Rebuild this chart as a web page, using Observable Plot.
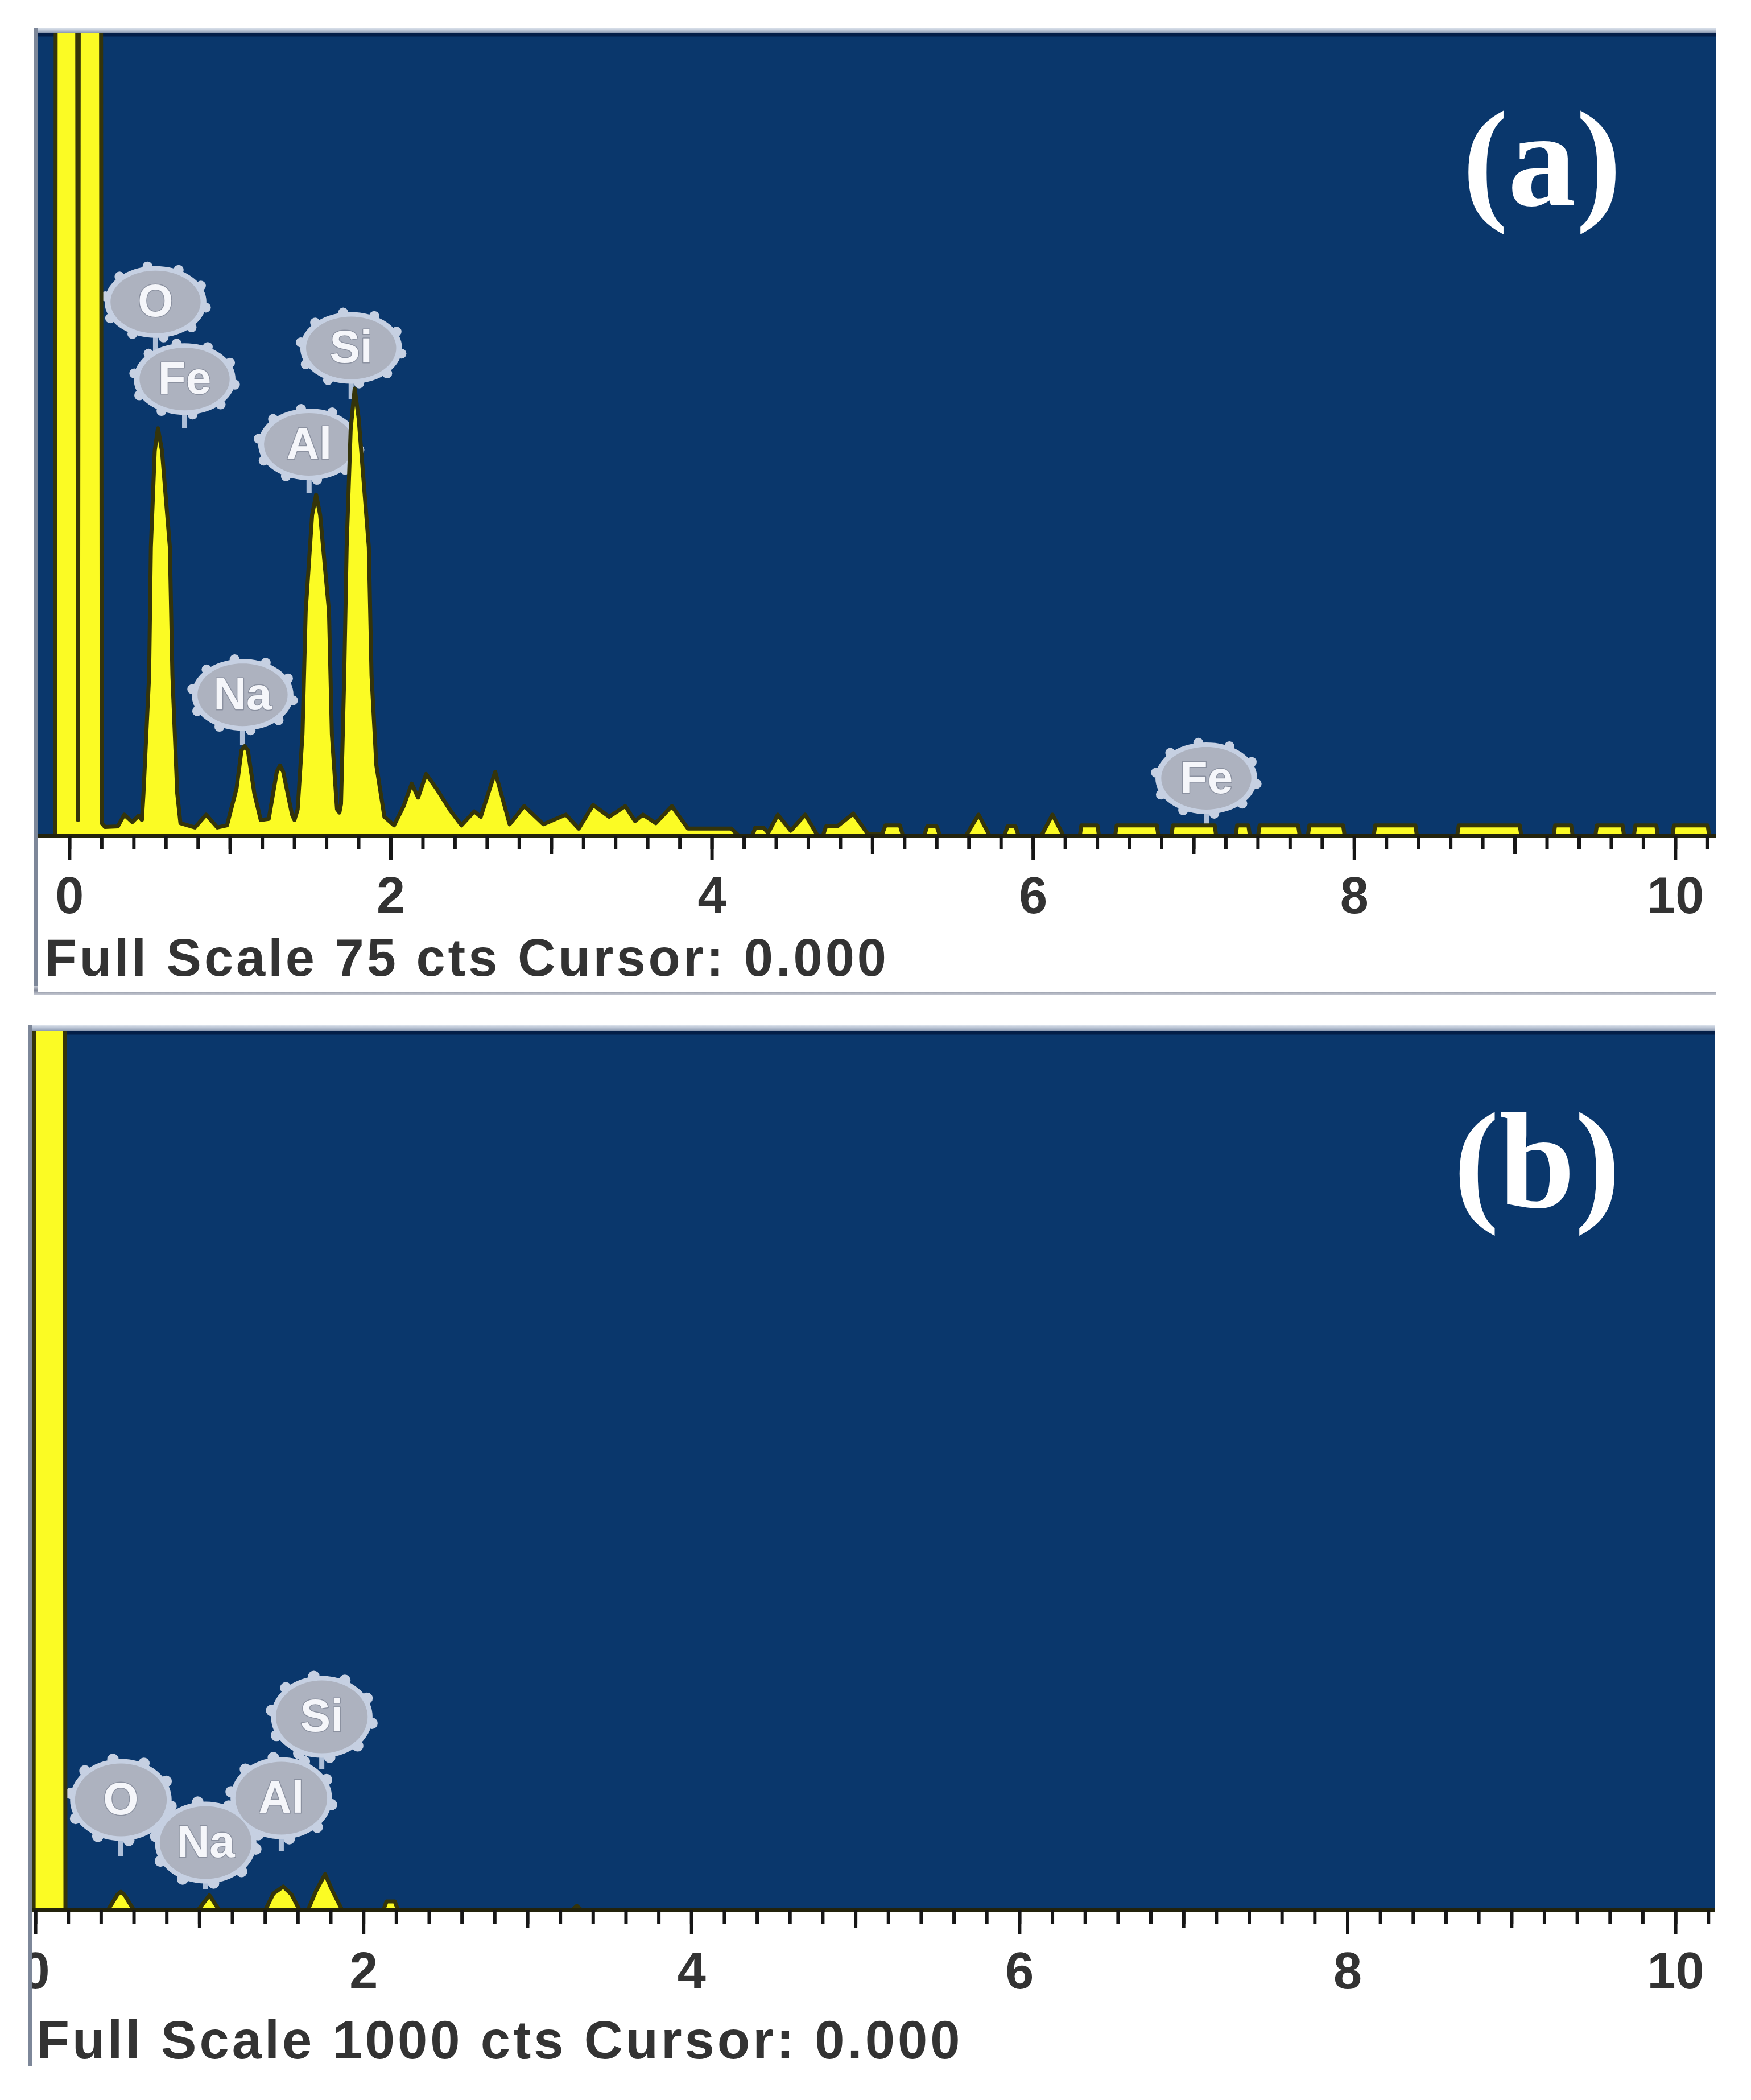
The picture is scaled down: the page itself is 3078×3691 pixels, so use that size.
<!DOCTYPE html>
<html><head><meta charset="utf-8">
<script src="https://cdn.jsdelivr.net/npm/d3@7"></script>
<script src="https://cdn.jsdelivr.net/npm/@observablehq/plot@0.6"></script>
<style>
html,body{margin:0;padding:0;background:#fff;}
#page{position:relative;width:3078px;height:3691px;overflow:hidden;background:#fff;}
.abs{position:absolute;}
</style></head>
<body><div id="page">
  <div class="abs" style="left:60px;top:49px;width:2956px;height:9px;background:linear-gradient(#e3e9f1,#8d9bb3);"></div>
  <div class="abs" style="left:60px;top:49px;width:6px;height:1699px;background:#7d8799;"></div>
  <div class="abs" style="left:60px;top:1733px;width:2956px;height:15px;background:linear-gradient(#c4c8d2,#858b9b,#c0c4ce);"></div>
  <div class="abs" style="left:50px;top:1801px;width:2964px;height:11px;background:linear-gradient(#e3e9f1,#8d9bb3);"></div>
  <div class="abs" style="left:50px;top:1801px;width:6px;height:1831px;background:#7d8799;"></div>
  <div id="pa" class="abs" style="left:66px;top:58px;"></div>
  <div id="pb" class="abs" style="left:56px;top:1812px;"></div>
</div>
<script>
// ---------- data (energy keV, counts) ----------
const spectrumA = [[-0.20,0],[-0.09,0],[-0.078,300],[0.033,300],[0.052,1.5],[0.071,300],[0.183,300],[0.20,1.2],[0.22,0.85],[0.30,0.9],[0.34,2.0],[0.39,1.3],[0.43,1.9],[0.45,1.5],[0.46,4],[0.495,15],[0.506,27],[0.53,36],[0.55,38.1],[0.575,36],[0.624,27],[0.64,15],[0.67,4],[0.69,1.2],[0.78,0.8],[0.85,2.0],[0.92,0.8],[0.98,1.0],[1.04,4.5],[1.07,8],[1.09,8.4],[1.11,8],[1.15,4],[1.19,1.5],[1.24,1.6],[1.29,6],[1.31,6.6],[1.33,6],[1.385,2.0],[1.40,1.5],[1.42,2.5],[1.45,9.5],[1.47,21],[1.51,30],[1.535,31.9],[1.56,30],[1.615,21],[1.633,9.5],[1.665,2.5],[1.68,2.2],[1.69,3],[1.71,15],[1.725,27],[1.75,38],[1.775,41.8],[1.80,39],[1.863,27],[1.88,15],[1.91,6.6],[1.96,1.8],[2.02,1.0],[2.08,2.8],[2.13,4.9],[2.17,3.6],[2.22,5.8],[2.29,4.3],[2.37,2.4],[2.44,1.0],[2.52,2.3],[2.56,1.8],[2.65,6.0],[2.74,1.1],[2.83,2.8],[2.95,1.1],[3.09,2.0],[3.17,0.7],[3.26,2.9],[3.36,1.8],[3.46,2.8],[3.52,1.4],[3.57,2.0],[3.65,1.2],[3.75,2.8],[3.85,0.7],[4.12,0.7],[4.17,0],[4.25,0],[4.27,0.8],[4.32,0.8],[4.35,0.3],[4.41,2.0],[4.49,0.5],[4.58,2.0],[4.66,0],[4.69,0],[4.71,0.9],[4.78,0.9],[4.88,2.1],[4.97,0.2],[5.06,0.2],[5.08,1.0],[5.17,1.0],[5.19,0],[5.32,0],[5.34,0.9],[5.40,0.9],[5.42,0],[5.58,0],[5.66,2.0],[5.73,0],[5.82,0],[5.84,0.9],[5.89,0.9],[5.91,0],[6.05,0],[6.12,2.0],[6.19,0],[6.29,0],[6.30,1],[6.40,1],[6.41,0],[6.51,0],[6.52,1],[6.77,1],[6.78,0],[6.86,0],[6.87,1],[7.13,1],[7.14,0],[7.26,0],[7.27,1],[7.34,1],[7.35,0],[7.40,0],[7.41,1],[7.65,1],[7.66,0],[7.71,0],[7.72,1],[7.93,1],[7.94,0],[8.12,0],[8.13,1],[8.38,1],[8.39,0],[8.64,0],[8.65,1],[9.03,1],[9.04,0],[9.24,0],[9.25,1],[9.35,1],[9.36,0],[9.50,0],[9.51,1],[9.67,1],[9.68,0],[9.74,0],[9.75,1],[9.88,1],[9.89,0],[9.98,0],[9.99,1],[10.20,1],[10.21,0],[10.26,0]];

const spectrumB = [[-0.03,0],[-0.012,0],[-0.004,3000],[0.168,3000],[0.182,0],[0.44,0],[0.47,9],[0.50,18],[0.52,21],[0.54,18],[0.57,9],[0.60,0],[0.99,0],[1.06,17],[1.12,0],[1.40,0],[1.45,19],[1.51,27],[1.56,18],[1.61,0],[1.66,0],[1.71,22],[1.765,41],[1.81,22],[1.87,0],[2.12,0],[2.14,10],[2.19,10],[2.21,0],[3.27,0],[3.30,5],[3.33,0],[10.25,0]];

// element labels: name, energy (keV), label height (cts), stem tip (cts)
const elementsA  = ["O", "Fe", "Si", "Al", "Na", "Fe"];
const labelEA    = [0.535, 0.716, 1.753, 1.491, 1.077, 7.078];
const labelCA    = [49.9, 42.7, 45.6, 36.6, 13.2, 5.4];
const stemTipA   = [45.0, 38.1, 40.8, 32.0, 8.5, 1.0];

const elementsB  = ["O", "Na", "Al", "Si"];
const labelEB    = [0.52, 1.037, 1.498, 1.745];
const labelCB    = [125.6, 77.0, 127.5, 220];
const stemTipB   = [60.8, 23.9, 67.3, 159.9];

const fullScaleA = 75;
const fullScaleB = 1000;
const captionA = "Full Scale 75 cts Cursor: 0.000";
const captionB = "Full Scale 1000 cts Cursor: 0.000";
const tagA = "(a)";
const tagB = "(b)";

const labelTicks = [0, 2, 4, 6, 8, 10];
const unitTicks = [1, 3, 5, 7, 9];
const minorTicks = d3.range(0, 52).map(i => i / 5);

// ---------- drawing ----------
const BLUE = "#0a376c";
const YELLOW = "#fbfb24";
const OUTLINE = "#34340a";

function balloon(kx, knobs) {
  return {
    draw(ctx, size) {
      const r = Math.sqrt(size / Math.PI);
      const rx = r * kx, ry = r, n = 72;
      ctx.moveTo(rx, 0);
      for (let i = 1; i < n; i++) {
        const t = 2 * Math.PI * i / n;
        ctx.lineTo(rx * Math.cos(t), ry * Math.sin(t));
      }
      ctx.closePath();
      if (knobs) {
        const kr = r * 0.14;
        for (let i = 0; i < 10; i++) {
          const t = 2 * Math.PI * (i + 0.25) / 10;
          const x = rx * Math.cos(t), y = ry * Math.sin(t);
          ctx.moveTo(x + kr, y);
          ctx.arc(x, y, kr, 0, 2 * Math.PI);
        }
      }
    }
  };
}

function panel(o) {
  const spec = o.spectrum.map(([e, c]) => ({e, c}));
  const labels = o.elements.map((el, i) => ({el, e: o.labelE[i], c: o.labelC[i], tip: o.stemTip[i]}));
  const svg = Plot.plot({
    width: o.width,
    height: o.plotH + o.marginBottom,
    marginTop: 0, marginRight: 0, marginLeft: 0, marginBottom: o.marginBottom,
    x: {domain: o.domainX},
    y: {domain: [0, o.fullScale], axis: null},
    style: {fontFamily: "'Liberation Sans', Arial, sans-serif", background: "white", overflow: "hidden"},
    marks: [
      Plot.frame({fill: BLUE, stroke: "none"}),
      Plot.ruleY([o.fullScale], {stroke: "#031e48", strokeWidth: 12, clip: true}),
      Plot.ruleX(labels, {x: "e", y1: "c", y2: "tip", stroke: "#aebfd8", strokeWidth: 9}),
      Plot.dot(labels, {x: "e", y: "c", r: o.rBalloon + 4, symbol: balloon(o.kx, true), fill: "#c6d0e2", stroke: "none"}),
      Plot.dot(labels, {x: "e", y: "c", r: o.rBalloon - 4, symbol: balloon(o.kx + 0.02, false), fill: "#adb2bf", stroke: "none"}),
      Plot.text(labels, {x: "e", y: "c", text: "el", fontSize: 80, fontWeight: "bold", fill: "#f5f6fa", stroke: "#8b91a0", strokeWidth: 3, paintOrder: "stroke"}),
      Plot.areaY(spec, {x: "e", y: "c", fill: YELLOW, clip: true}),
      Plot.line(spec, {x: "e", y: "c", stroke: OUTLINE, strokeWidth: 7, clip: true}),
      Plot.ruleY([0], {stroke: "#23230c", strokeWidth: 7}),
      Plot.axisX({ticks: minorTicks, tickSize: 24, tickFormat: () => "", stroke: "#161616", strokeWidth: 6, label: null}),
      Plot.axisX({ticks: unitTicks, tickSize: 32, tickFormat: () => "", stroke: "#161616", strokeWidth: 6, label: null}),
      Plot.axisX({ticks: labelTicks, tickSize: 42, tickPadding: o.tickPad, tickFormat: d => String(d), stroke: "#161616", fill: "#333333", strokeWidth: 6, fontSize: 90, fontWeight: "bold", label: null}),
      Plot.text([o.caption], {text: d => d, frameAnchor: "bottom-left", dx: o.captionDx, dy: o.captionDy, textAnchor: "start", lineAnchor: "middle", fontSize: o.captionSize, fontWeight: "bold", fill: "#333333"}),
      Plot.text([o.tag], {text: d => d, frameAnchor: "top-right", dx: -166, dy: o.tagDy, textAnchor: "end", lineAnchor: "middle", fontSize: 240, fontWeight: "bold", fontFamily: "'Liberation Serif', 'Times New Roman', serif", fill: "#ffffff"})
    ]
  });
  d3.select(svg).selectAll("text").filter(function () { return this.textContent.startsWith("Full Scale"); })
    .attr("letter-spacing", o.captionSpacing + "px");
  return svg;
}

document.getElementById("pa").append(panel({
  spectrum: spectrumA, elements: elementsA, labelE: labelEA, labelC: labelCA, stemTip: stemTipA,
  fullScale: fullScaleA, width: 2950, plotH: 1411, marginBottom: 275,
  domainX: [-0.198, 10.252], tickPad: 30,
  caption: captionA, captionDx: 12, captionDy: 216, captionSize: 92, captionSpacing: 5,
  tag: tagA, tagDy: 226, kx: 1.42, rBalloon: 59
}));

document.getElementById("pb").append(panel({
  spectrum: spectrumB, elements: elementsB, labelE: labelEB, labelC: labelCB, stemTip: stemTipB,
  fullScale: fullScaleB, width: 2958, plotH: 1545, marginBottom: 283,
  domainX: [-0.021, 10.239], tickPad: 32,
  caption: captionB, captionDx: 8, captionDy: 230, captionSize: 94, captionSpacing: 5,
  tag: tagB, tagDy: 232, kx: 1.24, rBalloon: 68
}));
</script>
</body></html>
